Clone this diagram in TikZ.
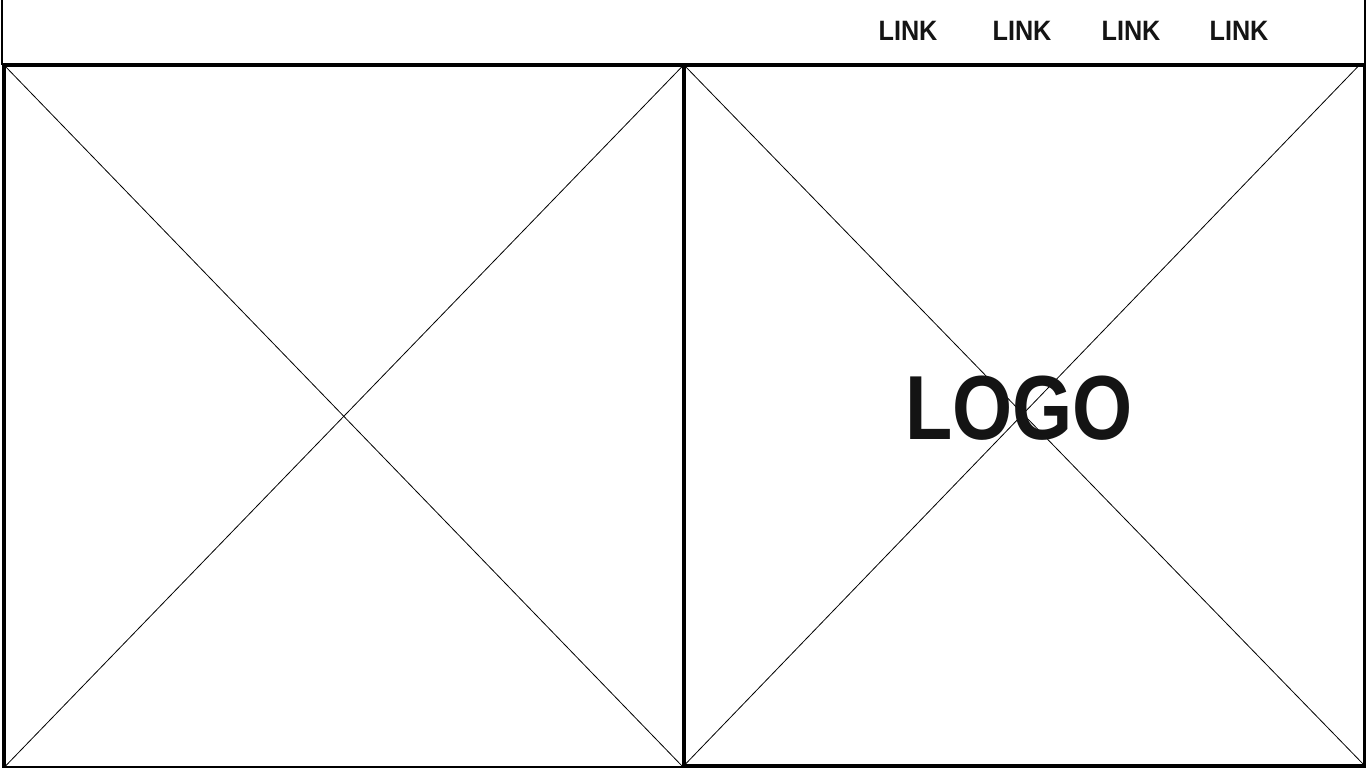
\documentclass[tikz,border=0pt]{standalone}
\usepackage{fontspec}
\setmainfont{Liberation Sans}
\definecolor{ink}{HTML}{141414}
\tikzset{
  header/.style={draw=black, line width=2pt, inner sep=0pt, anchor=north west,
                 minimum width=1363pt, minimum height=65pt},
  panel/.style={draw=black, line width=3.6pt, inner sep=0pt, anchor=north west},
  diag/.style={draw=black, line width=0.8pt},
  linktext/.style={font=\bfseries\fontsize{28}{28}\selectfont, text=ink, inner sep=0pt, xscale=0.9},
  logotext/.style={font=\bfseries\fontsize{91}{91}\selectfont, text=ink, inner sep=0pt, xscale=0.85}
}
\begin{document}
\begin{tikzpicture}[x=1pt,y=-1pt]
\useasboundingbox[fill=white] (0,0) rectangle (1366,768);
% header bar
\node[header] (hdr) at (1,-2) {};
\node[linktext] (l1) at (908,31) {LINK};
\node[linktext] (l2) at (1022,31) {LINK};
\node[linktext] (l3) at (1131,31) {LINK};
\node[linktext] (l4) at (1239,31) {LINK};
% left image placeholder
\node[panel, minimum width=680pt, minimum height=703pt] (left) at (2,63) {};
\draw[diag] ([shift={(1.8pt,-1.8pt)}]left.north west) -- ([shift={(-1.8pt,1.8pt)}]left.south east);
\draw[diag] ([shift={(-1.8pt,-1.8pt)}]left.north east) -- ([shift={(1.8pt,1.8pt)}]left.south west);
% right image placeholder
\node[panel, minimum width=681pt, minimum height=701pt] (right) at (682,63) {};
\draw[diag] ([shift={(1.8pt,-1.8pt)}]right.north west) -- ([shift={(-1.8pt,1.8pt)}]right.south east);
\draw[diag] ([shift={(-7pt,-1.8pt)}]right.north east) -- ([shift={(1.8pt,1.8pt)}]right.south west);
\node[logotext] (logo) at (1019,408) {LOGO};
\end{tikzpicture}
\end{document}
